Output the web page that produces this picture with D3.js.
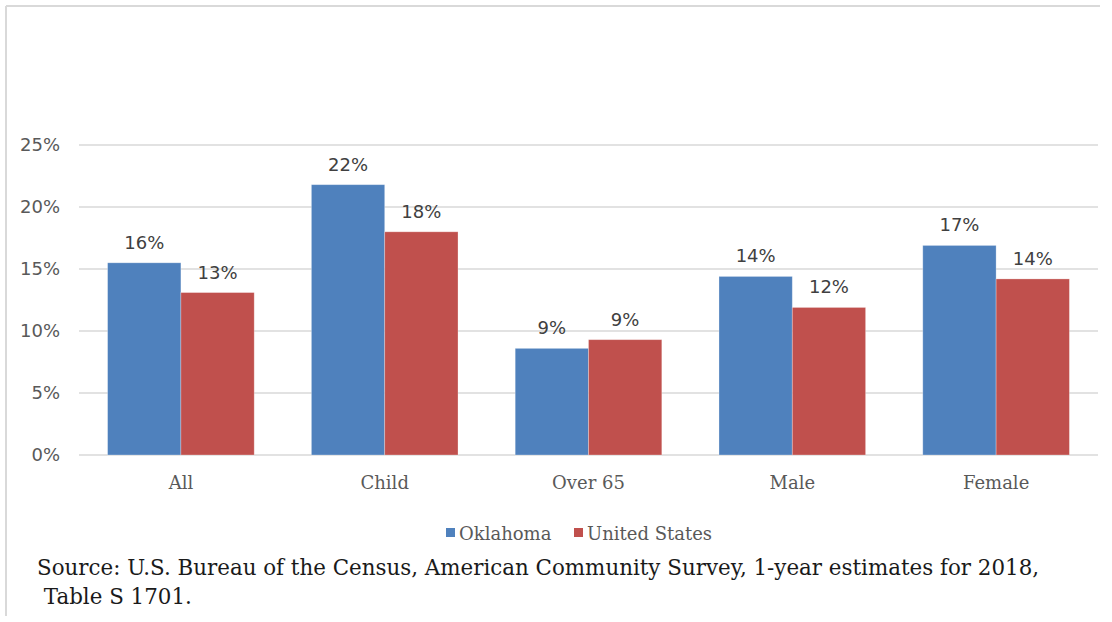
<!DOCTYPE html>
<html>
<head>
<meta charset="utf-8">
<script src="https://cdn.jsdelivr.net/npm/d3@7"></script>
<style>
  body { margin: 0; background: #fff; }
</style>
</head>
<body>
<div id="chart"></div>
<script>
// values (percent)
const categories = ["All", "Child", "Over 65", "Male", "Female"];
const seriesNames = ["Oklahoma", "United States"];
const oklahoma = [15.5, 21.8, 8.6, 14.4, 16.9];
const unitedStates = [13.1, 18.0, 9.3, 11.9, 14.2];
const labelsOK = ["16%", "22%", "9%", "14%", "17%"];
const labelsUS = ["13%", "18%", "9%", "12%", "14%"];
const yTicks = [0, 5, 10, 15, 20, 25];
const sourceLines = [
  "Source: U.S. Bureau of the Census, American Community Survey, 1-year estimates for 2018,",
  " Table S 1701."
];

const colors = ["#4f81bd", "#c0504d"];
const width = 1112, height = 622;
const margin = {top: 145, right: 14, bottom: 167, left: 79};
const visWidth = width - margin.left - margin.right;
const visHeight = height - margin.top - margin.bottom;

const svg = d3.select("#chart")
  .append("svg")
    .attr("width", width)
    .attr("height", height);

// frame lines (top and left)
svg.append("line").attr("x1", 6).attr("x2", 1100).attr("y1", 6).attr("y2", 6)
  .attr("stroke", "#d9d9d9").attr("stroke-width", 2);
svg.append("line").attr("x1", 6).attr("x2", 6).attr("y1", 6).attr("y2", 616)
  .attr("stroke", "#d9d9d9").attr("stroke-width", 2);

const g = svg.append("g")
  .attr("transform", "translate(" + margin.left + "," + margin.top + ")");

const x = d3.scaleBand()
  .domain(categories)
  .range([0, visWidth]);

const x1 = d3.scaleBand()
  .domain(seriesNames)
  .range([0, x.bandwidth()])
  .paddingOuter(0.39)
  .paddingInner(0);

const y = d3.scaleLinear()
  .domain([0, 25])
  .range([visHeight, 0]);

// gridlines
g.append("g")
  .selectAll("line")
  .data(yTicks)
  .join("line")
    .attr("x1", 0)
    .attr("x2", visWidth)
    .attr("y1", d => y(d))
    .attr("y2", d => y(d))
    .attr("stroke", "#d9d9d9")
    .attr("stroke-width", 1.3);

// y axis labels
const yAxis = g.append("g")
  .call(d3.axisLeft(y).tickValues(yTicks).tickFormat(d => d + "%").tickSize(0).tickPadding(19));
yAxis.select(".domain").remove();
yAxis.selectAll("text")
  .attr("font-family", "'DejaVu Sans', sans-serif")
  .attr("font-size", "18px")
  .attr("fill", "#595959");

// x axis labels
const xAxis = g.append("g")
  .attr("transform", "translate(0," + visHeight + ")")
  .call(d3.axisBottom(x).tickSize(0).tickPadding(21));
xAxis.select(".domain").remove();
xAxis.selectAll("text")
  .attr("font-family", "'DejaVu Serif', serif")
  .attr("font-size", "18px")
  .attr("fill", "#595959");

const rows = categories.map((c, i) => ({
  category: c,
  values: [
    {series: seriesNames[0], value: oklahoma[i], label: labelsOK[i], color: colors[0]},
    {series: seriesNames[1], value: unitedStates[i], label: labelsUS[i], color: colors[1]}
  ]
}));

const groups = g.selectAll(".cat")
  .data(rows)
  .join("g")
    .attr("class", "cat")
    .attr("transform", d => "translate(" + x(d.category) + ",0)");

groups.selectAll("rect")
  .data(d => d.values)
  .join("rect")
    .attr("x", d => x1(d.series))
    .attr("y", d => y(d.value))
    .attr("width", x1.bandwidth())
    .attr("height", d => visHeight - y(d.value))
    .attr("fill", d => d.color)
    .attr("stroke", "#ffffff")
    .attr("stroke-opacity", 0.35)
    .attr("stroke-width", 0.8);

groups.selectAll("text")
  .data(d => d.values)
  .join("text")
    .attr("x", d => x1(d.series) + x1.bandwidth() / 2)
    .attr("y", d => y(d.value) - 14)
    .attr("text-anchor", "middle")
    .attr("font-family", "'DejaVu Sans', sans-serif")
    .attr("font-size", "18px")
    .attr("fill", "#404040")
    .text(d => d.label);

// legend
const legend = svg.append("g")
  .attr("transform", "translate(446,532)");
const legendX = [0, 128];
seriesNames.forEach((name, i) => {
  legend.append("rect")
    .attr("x", legendX[i])
    .attr("y", -4)
    .attr("width", 9)
    .attr("height", 9)
    .attr("fill", colors[i]);
  legend.append("text")
    .attr("x", legendX[i] + 13)
    .attr("y", 1)
    .attr("dominant-baseline", "central")
    .attr("font-family", "'DejaVu Serif', serif")
    .attr("font-size", "18px")
    .attr("fill", "#595959")
    .text(name);
});

// source note
svg.selectAll(".source")
  .data(sourceLines)
  .join("text")
    .attr("class", "source")
    .attr("x", 37)
    .attr("y", (d, i) => 575 + i * 29)
    .attr("font-family", "'DejaVu Serif', serif")
    .attr("font-size", "21.4px")
    .attr("fill", "#1a1a1a")
    .attr("xml:space", "preserve")
    .style("white-space", "pre")
    .text(d => d);
</script>
</body>
</html>
